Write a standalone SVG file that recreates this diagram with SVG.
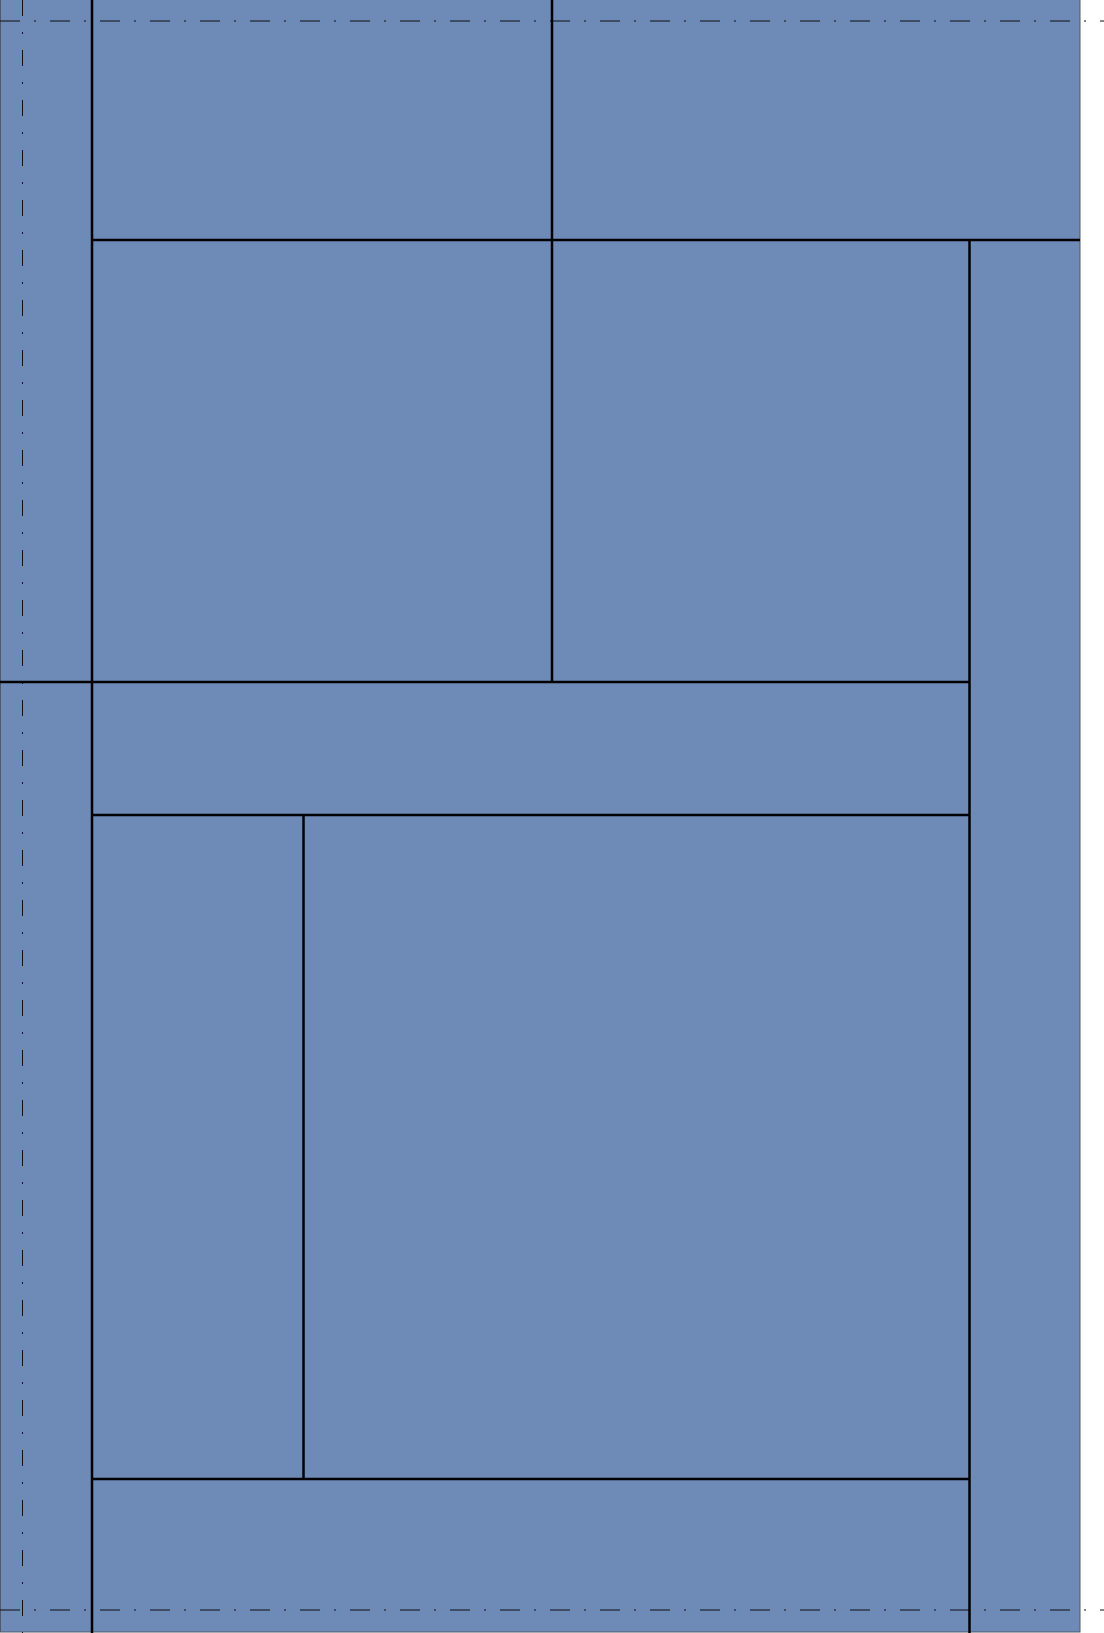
<svg xmlns="http://www.w3.org/2000/svg" width="1104" height="1633" viewBox="0 0 1104 1633">
<style>
.wall{stroke:#000;stroke-width:2.5;fill:none}
.axis{stroke:#111;stroke-width:1;fill:none;stroke-dasharray:20 14 2 14}
.axisv{stroke:#111;stroke-width:1;fill:none;stroke-dasharray:16 16 2 16}
</style>
<rect x="0" y="0" width="1104" height="1633" fill="#ffffff"/>
<g id="panel">
<rect x="0.5" y="-1" width="1079.5" height="1633" fill="#6e8ab7" stroke="#50586a" stroke-width="1"/>
</g>
<g id="axes">
<line class="axis" x1="0" y1="21" x2="1104" y2="21"/>
<line class="axis" x1="0" y1="1610" x2="1104" y2="1610"/>
<line class="axisv" x1="22.5" y1="0" x2="22.5" y2="1633"/>
</g>
<g id="divisions">
<line class="wall" x1="92" y1="0" x2="92" y2="1633"/>
<line class="wall" x1="552" y1="0" x2="552" y2="682"/>
<line class="wall" x1="92" y1="240" x2="1080" y2="240"/>
<line class="wall" x1="969.5" y1="240" x2="969.5" y2="1633"/>
<line class="wall" x1="0" y1="682" x2="969.5" y2="682"/>
<line class="wall" x1="92" y1="815" x2="969.5" y2="815"/>
<line class="wall" x1="303.5" y1="815" x2="303.5" y2="1479"/>
<line class="wall" x1="92" y1="1479" x2="969.5" y2="1479"/>
</g>
</svg>
